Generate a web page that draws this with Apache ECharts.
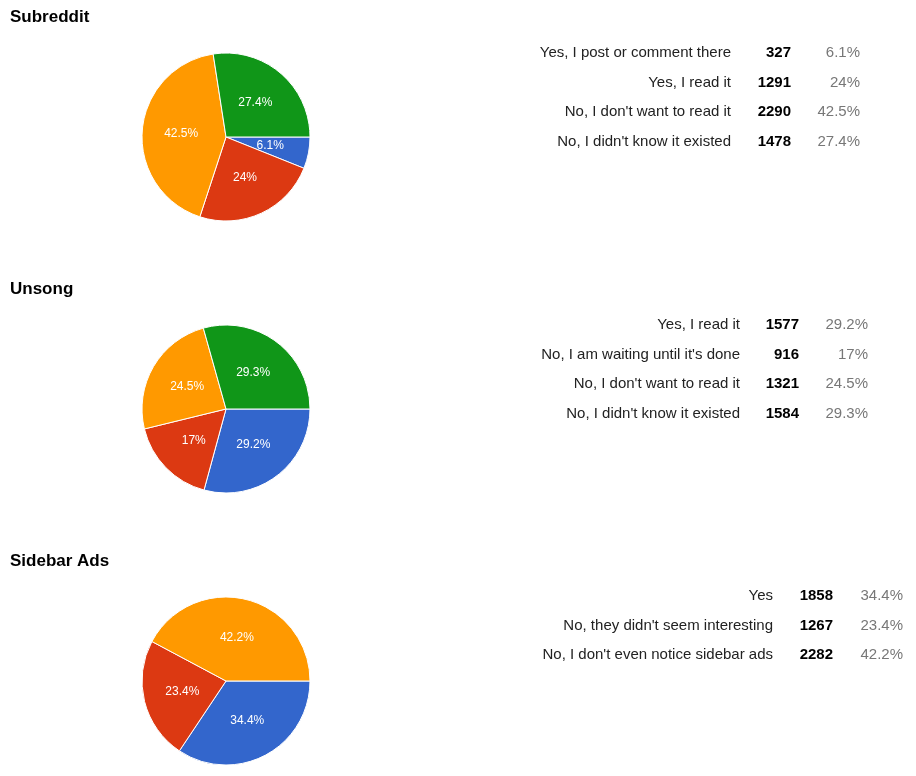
<!DOCTYPE html>
<html>
<head>
<meta charset="utf-8">
<script src="https://cdn.jsdelivr.net/npm/echarts@6/dist/echarts.min.js"></script>
<style>
  html, body { margin: 0; padding: 0; background: #fff; }
  #main { width: 916px; height: 776px; }
</style>
</head>
<body>
<div id="main"></div>
<script>
// titles of each section
var titles = ['Subreddit', 'Unsong', 'Sidebar Ads'];

// answers and counts, in slice order (blue, red, orange, green)
var subredditLabels = ['Yes, I post or comment there', 'Yes, I read it', "No, I don't want to read it", "No, I didn't know it existed"];
var subredditCounts = [327, 1291, 2290, 1478];
var subredditPct = ['6.1%', '24%', '42.5%', '27.4%'];

var unsongLabels = ['Yes, I read it', "No, I am waiting until it's done", "No, I don't want to read it", "No, I didn't know it existed"];
var unsongCounts = [1577, 916, 1321, 1584];
var unsongPct = ['29.2%', '17%', '24.5%', '29.3%'];

var adsLabels = ['Yes', "No, they didn't seem interesting", "No, I don't even notice sidebar ads"];
var adsCounts = [1858, 1267, 2282];
var adsPct = ['34.4%', '23.4%', '42.2%'];

var colors = ['#3366cc', '#dc3912', '#ff9900', '#109618'];
var font = 'Liberation Sans, Arial, sans-serif';

var sections = [
  { labels: subredditLabels, counts: subredditCounts, pct: subredditPct, top: 0, labelX: 731, numX: 791, pctX: 860, rowY: 53 },
  { labels: unsongLabels, counts: unsongCounts, pct: unsongPct, top: 272, labelX: 740, numX: 799, pctX: 868, rowY: 325 },
  { labels: adsLabels, counts: adsCounts, pct: adsPct, top: 544, labelX: 773, numX: 833, pctX: 903, rowY: 596 }
];

var series = [];
var graphic = [];
sections.forEach(function (s, i) {
  series.push({
    type: 'pie',
    center: [226, s.top + 137],
    radius: 84,
    startAngle: 0,
    clockwise: true,
    silent: true,
    itemStyle: { borderColor: '#fff', borderWidth: 1 },
    label: {
      position: 'inside', color: '#fff', fontSize: 12, fontFamily: font,
      formatter: function (p) { return s.pct[p.dataIndex]; }
    },
    labelLine: { show: false },
    data: s.counts.map(function (v, j) {
      return { value: v, name: s.labels[j], itemStyle: { color: colors[j] } };
    })
  });
  graphic.push({
    type: 'text', left: 10, top: s.top + 9,
    style: { text: titles[i], font: 'bold 17px ' + font, fill: '#000' }
  });
  s.labels.forEach(function (lab, j) {
    var y = s.rowY + j * 29.5;
    graphic.push({ type: 'text', x: s.labelX, y: y,
      style: { text: lab, align: 'right', verticalAlign: 'middle', font: '15px ' + font, fill: '#222' } });
    graphic.push({ type: 'text', x: s.numX, y: y,
      style: { text: String(s.counts[j]), align: 'right', verticalAlign: 'middle', font: 'bold 15px ' + font, fill: '#000' } });
    graphic.push({ type: 'text', x: s.pctX, y: y,
      style: { text: s.pct[j], align: 'right', verticalAlign: 'middle', font: '15px ' + font, fill: '#777' } });
  });
});

var chart = echarts.init(document.getElementById('main'));
chart.setOption({
  animation: false,
  backgroundColor: '#fff',
  series: series,
  graphic: graphic
});
</script>
</body>
</html>
